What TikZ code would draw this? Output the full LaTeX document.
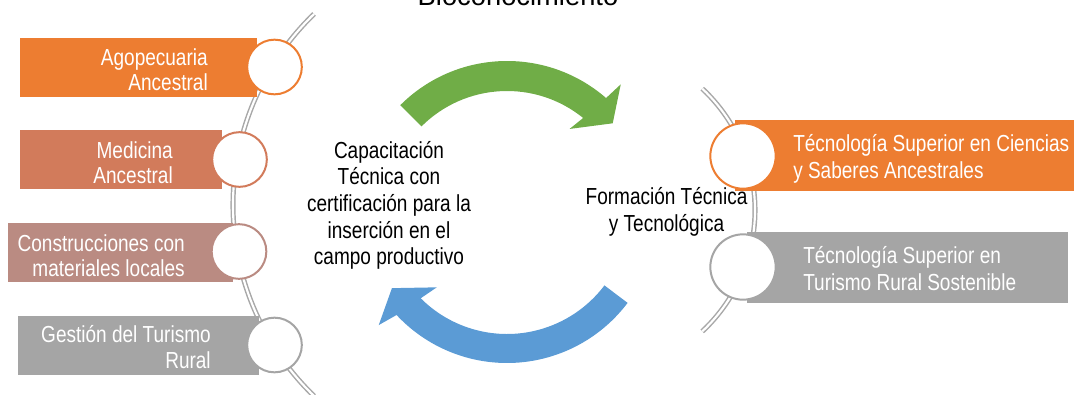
\documentclass[tikz,border=0pt]{standalone}
\usepackage{fontspec}
\setmainfont[FakeStretch=0.82]{Liberation Sans}
\newfontfamily\titlefont{Liberation Sans}
\usepackage{xcolor}

\definecolor{cOrange}{HTML}{ED7D31}
\definecolor{cTerra}{HTML}{D27B5B}
\definecolor{cRose}{HTML}{BA8B82}
\definecolor{cGray}{HTML}{A5A5A5}
\definecolor{cGreen}{HTML}{70AD47}
\definecolor{cBlue}{HTML}{5B9BD5}
\definecolor{cRail}{HTML}{A8A8A8}

\tikzset{
  rail/.style={draw=cRail, line width=1.1pt, double=white, double distance=1.6pt},
  dot/.style={circle, fill=white, line width=1.5pt, minimum size=41pt, inner sep=0pt},
  bigdot/.style={dot, minimum size=49pt},
  tagl/.style={text=white, align=right, anchor=east, inner sep=0pt,
    font=\fontsize{17.4}{19}\selectfont},
  tagr/.style={text=white, align=left, anchor=west, inner sep=0pt,
    font=\fontsize{17.4}{20.2}\selectfont},
  mid/.style={align=center, inner sep=0pt, font=\fontsize{17.4}{20}\selectfont}
}

\begin{document}
\begin{tikzpicture}[x=0.75pt, y=0.75pt]
  \useasboundingbox (0,0) rectangle (1074,394);

  \node[anchor=base, font=\titlefont\fontsize{20.5}{24}\selectfont] (title) at (518,389) {Bioconocimiento};

  \draw[rail] (498.6,189) ++(134:265.6) arc[start angle=134, end angle=226, radius=265.6];
  \draw[rail] (589,184) ++(47:166) arc[start angle=47, end angle=-47, radius=166];

  \fill[cOrange] (20,297) rectangle (257,356);
  \fill[cTerra] (20,205) rectangle (222,264);
  \fill[cRose] (8,112) rectangle (233,171);
  \fill[cGray] (18,19) rectangle (259,78);
  \fill[cOrange] (735,203) rectangle (1074,274);
  \fill[cGray] (747,91) rectangle (1068,162);

  \node[dot, draw=cOrange] (c1) at (274.5,327) {};
  \node[dot, draw=cTerra] (c2) at (239.5,234.5) {};
  \node[dot, draw=cRose] (c3) at (239,142.5) {};
  \node[dot, draw=cGray] (c4) at (274.5,49) {};
  \node[bigdot, draw=cOrange] (r1) at (743,238) {};
  \node[bigdot, draw=cGray] (r2) at (743,127) {};

  \node[tagl] (agro) at (208,324) {Agopecuaria\\Ancestral};
  \node[tagl] (medi) at (173,231.5) {Medicina\\Ancestral};
  \node[tagl] (cons) at (185,138.5) {Construcciones con\\materiales locales};
  \node[tagl] (gest) at (211,47) {Gestión del Turismo\\Rural};
  \node[tagr] (cien) at (793,235) {Técnología Superior en Ciencias\\y Saberes Ancestrales};
  \node[tagr] (turi) at (803,125) {Técnología Superior en\\Turismo Rural Sostenible};

  \node[mid] (capa) at (389,188.5) {Capacitación\\Técnica con\\certificación para la\\inserción en el\\campo productivo};
  \node[mid] (form) at (666.5,182) {Formación Técnica\\y Tecnológica};

  \begin{scope}[shift={(507,182)}]
    \fill[cGreen] (135:151) arc[start angle=135, end angle=49, radius=151]
      -- (48.3:171) -- (40:138) -- (53:104) -- (51:121)
      arc[start angle=51, end angle=135, radius=121] -- cycle;
    \fill[cBlue] (-37:151) arc[start angle=-37, end angle=-137, radius=151]
      -- (-138.6:171) -- (-146.5:138) -- (-133:103) -- (-135:122)
      arc[start angle=-135, end angle=-37, radius=122] -- cycle;
  \end{scope}
\end{tikzpicture}
\end{document}
